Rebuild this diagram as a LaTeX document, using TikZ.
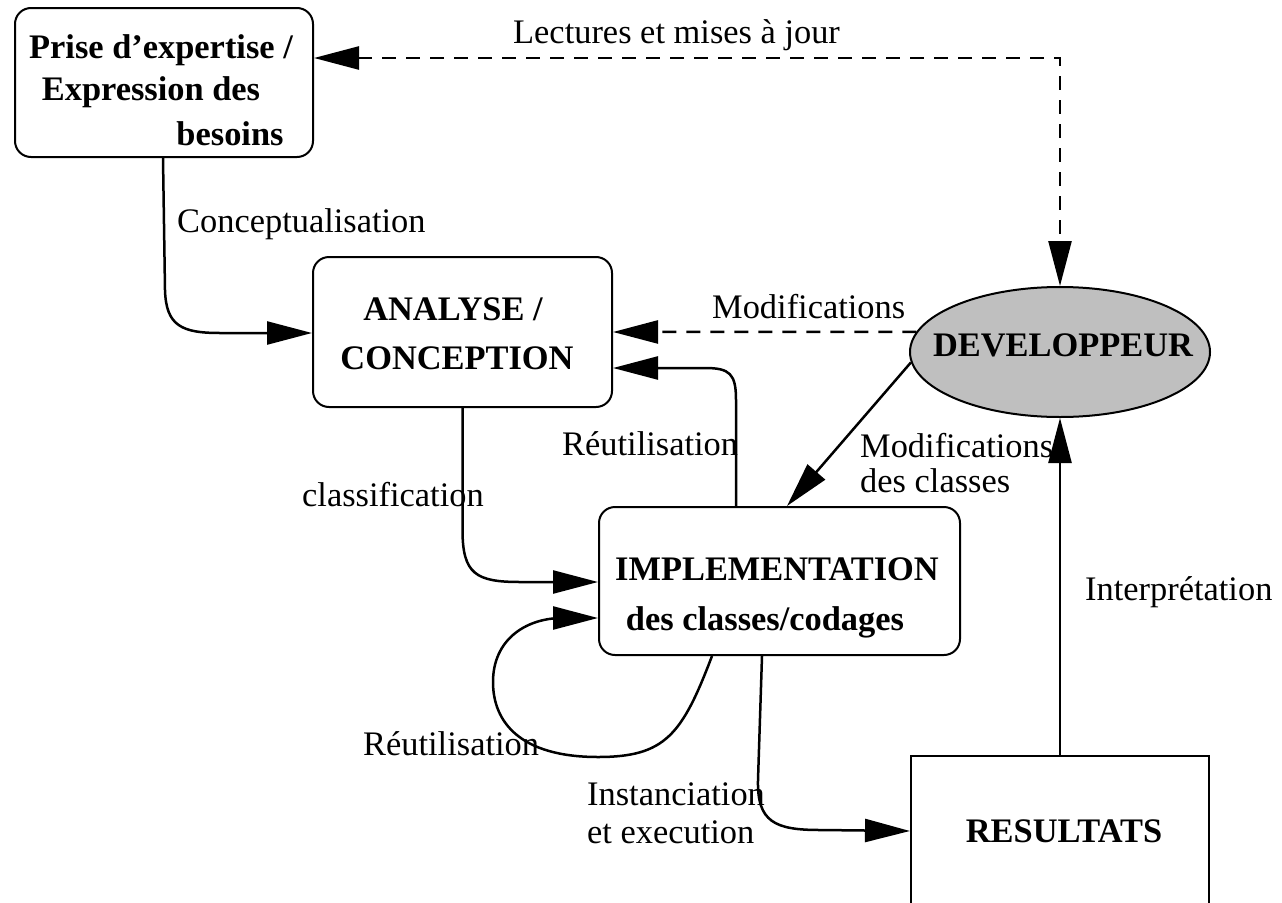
\documentclass[tikz,border=0pt]{standalone}
\usepackage{fontspec}
\setmainfont{Liberation Serif}
\usetikzlibrary{arrows.meta,shapes.geometric}
\definecolor{devgray}{RGB}{191,191,191}
\begin{document}
\begin{tikzpicture}[x=1pt,y=-1pt,
  box/.style={draw,line width=2pt,rounded corners=16pt,inner sep=0pt},
  tip/.style={Triangle[length=45pt,width=23pt]},
  conn/.style={line width=2.5pt,-{Triangle[length=45pt,width=23pt]}},
  dashconn/.style={conn,dash pattern=on 14pt off 10pt},
  lbl/.style={anchor=base west,inner sep=0pt,font=\fontsize{34.4}{40}\selectfont},
  btxt/.style={anchor=base,inner sep=0pt,font=\fontsize{34.4}{40}\selectfont\bfseries}]
\useasboundingbox (0,0) rectangle (1282,902);
\clip (0,0) rectangle (1282,902);
% boxes
\node[box, minimum width=298pt, minimum height=149pt] (b1) at (164,82.5) {};
\node[box, minimum width=299pt, minimum height=150pt] (b2) at (462.5,332) {};
\node[box, minimum width=361pt, minimum height=148pt] (b3) at (779.5,581) {};
\node[ellipse, draw, line width=2pt, fill=devgray, minimum width=300pt, minimum height=130pt, inner sep=0pt] (dev) at (1060,352) {};
\node[draw, line width=2pt, minimum width=298pt, minimum height=150pt, anchor=north, inner sep=0pt] (res) at (1060,755) {};
% box texts
\node[btxt] (t1a) at (161,58) {Prise d’expertise /};
\node[btxt] (t1b) at (151,100) {Expression des};
\node[btxt] (t1c) at (230,145) {besoins};
\node[btxt] (t2a) at (453,320) {ANALYSE /};
\node[btxt] (t2b) at (457,369) {CONCEPTION};
\node[btxt] (tdev) at (1063,356) {DEVELOPPEUR};
\node[btxt] (t3a) at (777,580) {IMPLEMENTATION};
\node[btxt] (t3b) at (765,630) {des classes/codages};
\node[btxt] (tres) at (1064,842) {RESULTATS};
% connectors
\draw[dashconn,{Triangle[length=45pt,width=23pt]}-{Triangle[length=45pt,width=23pt]}] ([yshift=24.5pt]b1.east) -| (dev.north);
\draw[dashconn] (dev.172) -- (b2.east);
\draw[conn] ([xshift=-1pt]b1.south) -- (165,290) .. controls (166,326) and (182,333) .. (220,333) -- ([yshift=-1pt]b2.west);
\draw[conn] ([xshift=-43.5pt]b3.north) -- (736,400) .. controls (736,374) and (730,368) .. (705,368) -- ([yshift=-36pt]b2.east);
\draw[conn] (dev.184) -- ([xshift=7.5pt]b3.north);
\draw[conn] (b2.south) -- (462.5,530) .. controls (462.5,574) and (476,582) .. (520,582) -- ([yshift=-1pt]b3.west);
\draw[conn] ([xshift=-67.5pt]b3.south) .. controls (682,735) and (665,757) .. (598,757) .. controls (520,757) and (493,722) .. (493,682) .. controls (493,640) and (525,619) .. (560,618) -- ([yshift=-37pt]b3.west);
\draw[conn] ([xshift=-17.5pt]b3.south) -- (758,780) .. controls (757,822) and (775,830) .. (820,830) -- (res.west);
\draw[conn] (res.north) -- (dev.south);
% labels
\node[lbl] (l1) at (513,43) {Lectures et mises à jour};
\node[lbl] (l2) at (177,232) {Conceptualisation};
\node[lbl] (l3) at (712,318) {Modifications};
\node[lbl] (l4) at (562,455) {Réutilisation};
\node[lbl] (l5) at (302,506) {classification};
\node[lbl] (l6) at (860,457) {Modifications};
\node[lbl] (l7) at (860,492) {des classes};
\node[lbl] (l8) at (1085,600) {Interprétation};
\node[lbl] (l9) at (363,755) {Réutilisation};
\node[lbl] (l10) at (587,805) {Instanciation};
\node[lbl] (l11) at (587,843) {et execution};
\end{tikzpicture}
\end{document}
